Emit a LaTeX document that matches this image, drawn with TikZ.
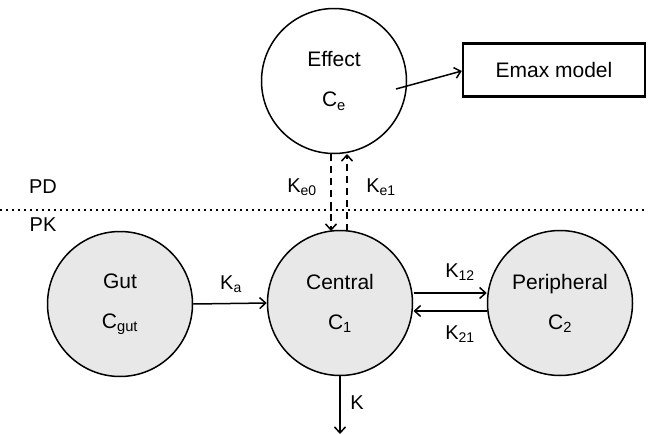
\documentclass[tikz,border=0pt]{standalone}
\usepackage{fontspec}
\setmainfont{Liberation Sans}
\usetikzlibrary{arrows.meta}
\newcommand\lsub[1]{\textsubscript{#1}}
\begin{document}
\begin{tikzpicture}[x=1pt,y=-1pt,
  comp/.style={circle,draw=black,line width=1.5pt,minimum size=145pt,inner sep=0pt,align=center,font=\fontsize{21}{40}\selectfont},
  pk/.style={comp,fill=gray!18},
  flow/.style={line width=1.5pt,-{Straight Barb[length=6pt,width=11pt]}},
  dflow/.style={flow,dash pattern=on 7pt off 5pt},
  lbl/.style={font=\fontsize{20}{22}\selectfont,inner sep=1pt}]
\useasboundingbox (0,0) rectangle (648,434);

% PD / PK separator
\draw[line width=2pt,dash pattern=on 1.8pt off 4.2pt] (0,210) -- (648,210);
\node[lbl] (pd) at (43,187) {PD};
\node[lbl] (pk) at (43,225) {PK};

% compartments
\node[comp] (eff) at (334,81) {Effect\\C\lsub{e}};
\node[draw=black,line width=2.4pt,minimum width=182pt,minimum height=53pt,inner sep=0pt,font=\fontsize{21}{22}\selectfont] (emax) at (554,70) {Emax model};
\node[pk] (gut) at (120,304) {Gut\\C\lsub{gut}};
\node[pk] (cen) at (340,303) {Central\\C\lsub{1}};
\node[pk] (per) at (560,303) {Peripheral\\C\lsub{2}};

\coordinate (ce) at (396,89);
\coordinate (kend) at (340,434);

% connectors
\draw[flow] (ce) -- (emax.west |- 0,71);
\draw[flow] (gut.east) -- (cen.west);
\draw[flow] (cen.east |- 0,293) ++(0.3,0) -- (per.west |- 0,293);
\draw[flow] (per.west |- 0,311) -- ([xshift=0.3pt]cen.east |- 0,311);
\draw[flow] (cen.south) -- (kend);
\draw[dflow] (eff.south -| 331,0) ++(0,-0.2) -- (331,231);
\draw[dflow] (347,231) -- (347,154);

% rate constants
\node[lbl] (ka) at (231,284) {K\lsub{a}};
\node[lbl] (k12) at (460,272) {K\lsub{12}};
\node[lbl] (k21) at (460,334) {K\lsub{21}};
\node[lbl] (k) at (357,403) {K};
\node[lbl] (ke0) at (302,187) {K\lsub{e0}};
\node[lbl] (ke1) at (381,187) {K\lsub{e1}};
\end{tikzpicture}
\end{document}
